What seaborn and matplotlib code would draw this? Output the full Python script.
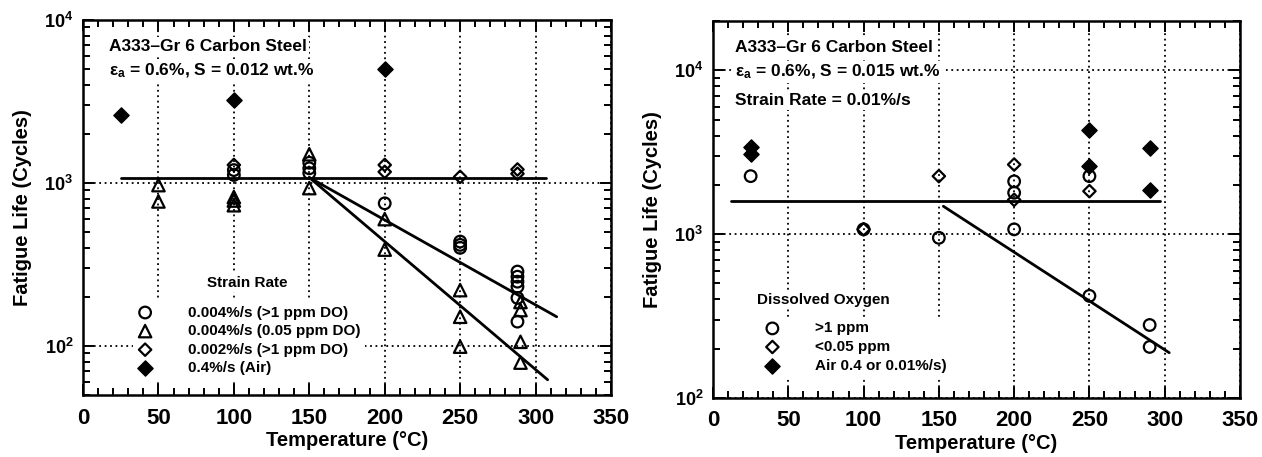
import numpy as np
import pandas as pd
import matplotlib
matplotlib.use("Agg")
import matplotlib.pyplot as plt
import seaborn as sns
from matplotlib.ticker import MultipleLocator, LogLocator, FuncFormatter, NullFormatter

# ---------------- data: left panel (S = 0.012 wt.%) ----------------
L_circ_T = [100, 100, 150, 150, 150, 200, 250, 250, 250, 288, 288, 288, 288, 288, 288]
L_circ_N = [1200, 1120, 1330, 1230, 1150, 750, 437, 417, 400, 286, 266, 248, 231, 197, 141]
L_tri_T = [50, 50, 100, 100, 100, 150, 150, 200, 200, 250, 250, 250, 290, 290, 290, 290]
L_tri_N = [970, 770, 820, 780, 730, 1500, 930, 600, 390, 220, 151, 99, 186, 166, 106, 79]
L_dia_T = [100, 200, 200, 250, 288, 288]
L_dia_N = [1290, 1290, 1170, 1090, 1210, 1140]
L_air_T = [25, 100, 200]
L_air_N = [2600, 3230, 5000]
L_flat_T = [25, 307]
L_flat_N = [1080, 1080]
L_fitA_T = [150, 314]
L_fitA_N = [1080, 151]
L_fitB_T = [150, 308]
L_fitB_N = [1080, 62]
L_labels = ["0.004%/s (>1 ppm DO)", "0.004%/s (0.05 ppm DO)",
            "0.002%/s (>1 ppm DO)", "0.4%/s (Air)"]

# ---------------- data: right panel (S = 0.015 wt.%) ----------------
R_circ_T = [25, 100, 150, 200, 200, 200, 250, 250, 290, 290]
R_circ_N = [2260, 1070, 950, 2100, 1790, 1070, 2260, 420, 279, 205]
R_dia_T = [100, 150, 200, 200, 250]
R_dia_N = [1070, 2260, 2660, 1620, 1830]
R_air_T = [25, 25, 250, 250, 290, 290]
R_air_N = [3100, 3400, 4350, 2600, 3360, 1860]
R_flat_T = [12, 297]
R_flat_N = [1590, 1590]
R_fit_T = [153, 303]
R_fit_N = [1480, 189]
R_labels = [">1 ppm", "<0.05 ppm", "Air 0.4 or 0.01%/s)"]

sns.set_style("ticks")
plt.rcParams["font.family"] = ["Liberation Sans", "DejaVu Sans"]
plt.rcParams["font.weight"] = "bold"
plt.rcParams["axes.labelweight"] = "bold"
plt.rcParams["mathtext.fontset"] = "custom"
plt.rcParams["mathtext.rm"] = "Liberation Sans:bold"
plt.rcParams["mathtext.bf"] = "Liberation Sans:bold"
plt.rcParams["mathtext.it"] = "Liberation Sans:bold:italic"
plt.rcParams["mathtext.default"] = "rm"
for k in ("text.color", "axes.labelcolor", "xtick.color", "ytick.color", "axes.edgecolor"):
    plt.rcParams[k] = "black"

W, H = 1262, 457
fig = plt.figure(figsize=(W / 100, H / 100), dpi=100)


def px_axes(l, t, r, b):
    return fig.add_axes([l / W, 1 - b / H, (r - l) / W, (b - t) / H])


axL = px_axes(83, 20, 611, 395)
axR = px_axes(713, 21, 1240, 398)

EW = 1.6


def open_pts(ax, x, y, marker, s, label):
    sns.scatterplot(x=x, y=y, marker=marker, s=s, facecolor="none",
                    edgecolor="black", linewidth=EW, ax=ax, label=label, zorder=4)


def filled_pts(ax, x, y, s, label):
    sns.scatterplot(x=x, y=y, marker="D", s=s, facecolor="black",
                    edgecolor="black", linewidth=1.0, ax=ax, label=label, zorder=4)


def fit_line(ax, x, y):
    sns.lineplot(x=x, y=y, color="black", lw=2.0, sort=False, estimator=None,
                 legend=False, ax=ax, zorder=3)


# left panel
open_pts(axL, L_circ_T, L_circ_N, "o", 70, L_labels[0])
open_pts(axL, L_tri_T, L_tri_N, "^", 80, L_labels[1])
open_pts(axL, L_dia_T, L_dia_N, "D", 40, L_labels[2])
filled_pts(axL, L_air_T, L_air_N, 60, L_labels[3])
fit_line(axL, L_flat_T, L_flat_N)
fit_line(axL, L_fitA_T, L_fitA_N)
fit_line(axL, L_fitB_T, L_fitB_N)

# right panel
open_pts(axR, R_circ_T, R_circ_N, "o", 70, R_labels[0])
open_pts(axR, R_dia_T, R_dia_N, "D", 40, R_labels[1])
filled_pts(axR, R_air_T, R_air_N, 60, R_labels[2])
fit_line(axR, R_flat_T, R_flat_N)
fit_line(axR, R_fit_T, R_fit_N)

fmt = FuncFormatter(lambda v, p: r"$10^{%d}$" % int(round(np.log10(v))))

for ax, ylim in ((axL, (50, 1e4)), (axR, (100, 2e4))):
    ax.set_yscale("log")
    ax.set_xlim(0, 350)
    ax.set_ylim(*ylim)
    ax.xaxis.set_major_locator(MultipleLocator(50))
    ax.xaxis.set_minor_locator(MultipleLocator(10))
    ax.yaxis.set_major_locator(LogLocator(base=10, numticks=10))
    ax.yaxis.set_minor_locator(LogLocator(base=10, subs=np.arange(2, 10), numticks=20))
    ax.yaxis.set_major_formatter(fmt)
    ax.yaxis.set_minor_formatter(NullFormatter())
    ax.set_axisbelow(True)
    ax.grid(True, which="major", ls=(0, (1, 2)), color="black", lw=1.3)
    ax.tick_params(which="both", direction="in", top=True, right=True, width=1.4,
                   colors="black")
    ax.tick_params(which="major", length=8)
    ax.tick_params(which="minor", length=5)
    ax.tick_params(axis="x", labelsize=16, pad=9)
    ax.tick_params(axis="y", labelsize=13, pad=7)
    for sp in ax.spines.values():
        sp.set_linewidth(1.8)
        sp.set_color("black")
    ax.set_xlabel("Temperature (\u00b0C)", fontsize=14.5, labelpad=2, color="black")
    ax.set_ylabel("Fatigue Life (Cycles)", fontsize=14.5, labelpad=9, color="black")

box = dict(facecolor="white", edgecolor="none", pad=1.5)

# left annotations
axL.text(0.05, 0.93, "A333\u2013Gr 6 Carbon Steel", transform=axL.transAxes,
         fontsize=12.5, va="center", ha="left", bbox=box)
axL.text(0.05, 0.865, r"$\varepsilon_a$ = 0.6%, S = 0.012 wt.%", transform=axL.transAxes,
         fontsize=12.5, va="center", ha="left", bbox=box)
axL.text(0.235, 0.299, "Strain Rate", transform=axL.transAxes,
         fontsize=11, va="center", ha="left", bbox=box)

# right annotations
axR.text(0.042, 0.93, "A333\u2013Gr 6 Carbon Steel", transform=axR.transAxes,
         fontsize=12.5, va="center", ha="left", bbox=box)
axR.text(0.042, 0.865, r"$\varepsilon_a$ = 0.6%, S = 0.015 wt.%", transform=axR.transAxes,
         fontsize=12.5, va="center", ha="left", bbox=box)
axR.text(0.042, 0.79, "Strain Rate = 0.01%/s", transform=axR.transAxes,
         fontsize=12.5, va="center", ha="left", bbox=box)
axR.text(0.0835, 0.26, "Dissolved Oxygen", transform=axR.transAxes,
         fontsize=11, va="center", ha="left", bbox=box)

legL = axL.legend(loc="lower left", bbox_to_anchor=(0.08, 0.02),
                  fontsize=11, frameon=True, framealpha=1,
                  facecolor="white", edgecolor="none", handlelength=1.0,
                  handletextpad=2.3, labelspacing=0.3, borderpad=0.3)
legR = axR.legend(loc="lower left", bbox_to_anchor=(0.075, 0.035),
                  fontsize=11, frameon=True, framealpha=1,
                  facecolor="white", edgecolor="none", handlelength=1.0,
                  handletextpad=2.3, labelspacing=0.3, borderpad=0.3)

fig.savefig("out.png", dpi=100)
